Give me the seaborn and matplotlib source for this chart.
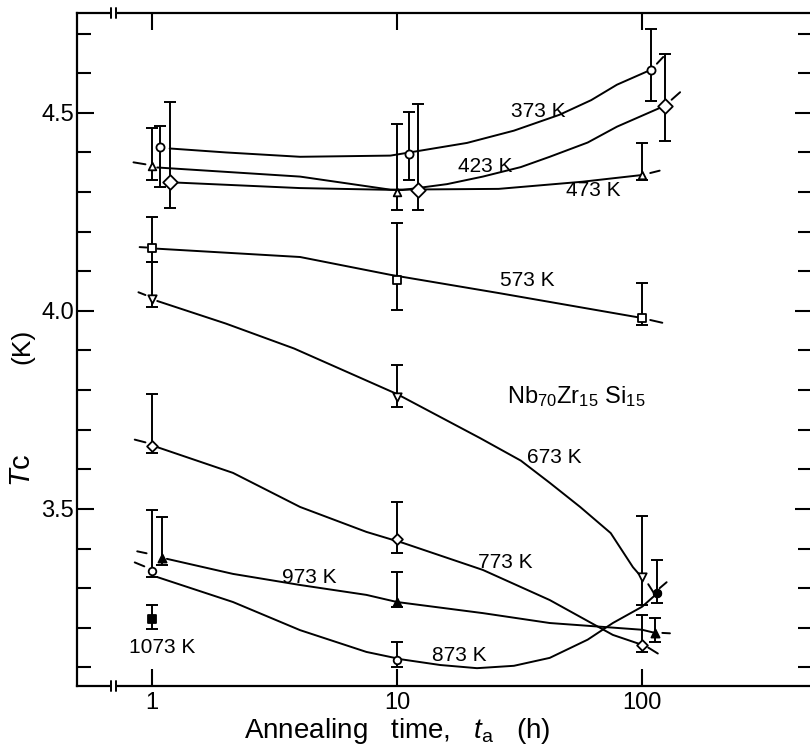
import numpy as np
import matplotlib
matplotlib.use('Agg')
import matplotlib.pyplot as plt
import seaborn as sns
from matplotlib.ticker import FixedLocator, NullLocator, MultipleLocator

# 数据：退火温度、退火时间 (h)、Tc (K)、误差上下限
temps = ['373 K', '423 K', '473 K', '573 K', '673 K', '773 K', '873 K', '973 K', '1073 K']

x_373 = [1.08, 11.2, 109]
y_373 = [4.414, 4.396, 4.609]
lo_373 = [4.313, 4.331, 4.53]
hi_373 = [4.467, 4.503, 4.712]

x_423 = [1.18, 12.2, 124]
y_423 = [4.326, 4.306, 4.518]
lo_423 = [4.26, 4.255, 4.43]
hi_423 = [4.528, 4.523, 4.649]

x_473 = [1, 10, 100]
y_473 = [4.366, 4.30, 4.343]
lo_473 = [4.331, 4.255, 4.33]
hi_473 = [4.462, 4.472, 4.424]

x_573 = [1, 10, 100]
y_573 = [4.159, 4.078, 3.982]
lo_573 = [4.124, 4.003, 3.965]
hi_573 = [4.237, 4.222, 4.071]

x_673 = [1, 10, 100]
y_673 = [4.030, 3.783, 3.328]
lo_673 = [4.01, 3.758, 3.258]
hi_673 = [4.124, 3.864, 3.482]

x_773 = [1, 10, 100]
y_773 = [3.659, 3.424, 3.157]
lo_773 = [3.64, 3.389, 3.14]
hi_773 = [3.79, 3.518, 3.232]

x_873 = [1, 10, 115]
y_873 = [3.343, 3.119, 3.288]
lo_873 = [3.328, 3.101, 3.263]
hi_873 = [3.498, 3.164, 3.371]

x_973 = [1.1, 10, 113]
y_973 = [3.376, 3.265, 3.187]
lo_973 = [3.358, 3.253, 3.164]
hi_973 = [3.48, 3.341, 3.225]

x_1073 = [1]
y_1073 = [3.222]
lo_1073 = [3.197]
hi_1073 = [3.258]

# 手绘拟合曲线（从图上读取的点）
cx_373 = [1.18, 2.0, 4.02, 9.4, 19.3, 30, 46, 62, 79, 109]
cy_373 = [4.41, 4.400, 4.389, 4.392, 4.424, 4.455, 4.495, 4.532, 4.571, 4.609]
cx_423 = [1.25, 4.02, 10.5, 16, 22.4, 32, 42, 60, 79, 124]
cy_423 = [4.324, 4.31, 4.305, 4.320, 4.339, 4.363, 4.389, 4.425, 4.465, 4.518]
cx_473 = [1.05, 4.02, 9.4, 26, 57, 100]
cy_473 = [4.362, 4.339, 4.306, 4.308, 4.326, 4.343]
cx_573 = [1.05, 4.02, 9.4, 26, 100]
cy_573 = [4.157, 4.136, 4.091, 4.045, 3.982]
cx_673 = [1.05, 2.0, 3.8, 10, 21.8, 32, 42, 55.9, 74.5, 91.8, 97]
cy_673 = [4.025, 3.968, 3.905, 3.79, 3.679, 3.622, 3.566, 3.505, 3.439, 3.353, 3.336]
cx_773 = [1.05, 2.14, 4.02, 7.5, 10.6, 22.4, 42, 76, 100]
cy_773 = [3.656, 3.591, 3.505, 3.442, 3.414, 3.346, 3.27, 3.182, 3.157]
cx_873 = [1.05, 2.14, 4.02, 7.5, 10.5, 15, 21.2, 30, 42, 60, 76, 100, 112]
cy_873 = [3.328, 3.265, 3.194, 3.139, 3.12, 3.106, 3.098, 3.104, 3.124, 3.17, 3.212, 3.253, 3.28]
cx_973 = [1.15, 2.14, 4.02, 7.5, 10, 22.4, 42, 100, 113]
cy_973 = [3.374, 3.336, 3.308, 3.283, 3.265, 3.237, 3.212, 3.195, 3.187]

# 曲线两端的短虚线段
dash_x = [[115, 122], [132, 143], [0.84, 0.94], [108, 118], [0.89, 0.95], [108, 121],
          [0.88, 0.94], [106, 113], [0.85, 0.94], [106, 116], [0.85, 0.93], [118, 126],
          [0.87, 0.95], [121, 130]]
dash_y = [[4.624, 4.641], [4.533, 4.552], [4.375, 4.370], [4.348, 4.354], [4.161, 4.160],
          [3.977, 3.970], [4.047, 4.040], [3.310, 3.283], [3.675, 3.668], [3.150, 3.135],
          [3.365, 3.355], [3.300, 3.315], [3.393, 3.388], [3.187, 3.186]]

label_x = [37.6, 23, 63, 34, 44, 27.6, 18, 4.4, 1.1]
label_y = [4.503, 4.364, 4.303, 4.076, 3.63, 3.364, 3.131, 3.328, 3.149]

sns.set_style('ticks')
plt.rcParams['font.family'] = ['Liberation Sans Narrow', 'Liberation Sans', 'DejaVu Sans']
plt.rcParams['mathtext.fontset'] = 'custom'
plt.rcParams['mathtext.it'] = 'Liberation Sans:italic'
plt.rcParams['mathtext.rm'] = 'Liberation Sans'
plt.rcParams['text.color'] = 'black'
plt.rcParams['axes.labelcolor'] = 'black'

fig = plt.figure(figsize=(8.1, 7.45), dpi=100)
ax = fig.add_axes([77 / 810, 59 / 745, 735 / 810, 673 / 745])
ax.set_xscale('log')
ax.set_xlim(0.494, 494)
ax.set_ylim(3.053, 4.752)

lw = 1.4
curves = [(cx_373, cy_373), (cx_423, cy_423), (cx_473, cy_473), (cx_573, cy_573),
          (cx_673, cy_673), (cx_773, cy_773), (cx_873, cy_873), (cx_973, cy_973)]
for cx, cy in curves:
    sns.lineplot(x=cx, y=cy, ax=ax, color='black', lw=lw, sort=False, estimator=None)
for dx, dy in zip(dash_x, dash_y):
    sns.lineplot(x=dx, y=dy, ax=ax, color='black', lw=lw, sort=False, estimator=None)

# 数据点和误差棒
series = [
    (x_373, y_373, lo_373, hi_373, 'o', 'white', 34),
    (x_423, y_423, lo_423, hi_423, 'D', 'white', 55),
    (x_473, y_473, lo_473, hi_473, '^', 'white', 30),
    (x_573, y_573, lo_573, hi_573, 's', 'white', 34),
    (x_673, y_673, lo_673, hi_673, 'v', 'white', 36),
    (x_773, y_773, lo_773, hi_773, 'D', 'white', 30),
    (x_873, y_873, lo_873, hi_873, 'o', 'white', 30),
    (x_973, y_973, lo_973, hi_973, '^', 'black', 34),
    (x_1073, y_1073, lo_1073, hi_1073, 's', 'black', 26),
]
for xs, ys, lo, hi, mk, fc, sz in series:
    ys_a = np.array(ys)
    yerr = [ys_a - np.array(lo), np.array(hi) - ys_a]
    ax.errorbar(xs, ys, yerr=yerr, fmt='none', ecolor='black', elinewidth=lw,
                capsize=4, capthick=lw, zorder=3)
    sns.scatterplot(x=xs, y=ys, ax=ax, marker=mk, s=sz, facecolor=fc,
                    edgecolor='black', linewidth=1.3, zorder=4)
# 873 K 在 100 h 处为半实心点
ax.scatter([x_873[2]], [y_873[2]], marker='o', s=30, facecolor='black',
           edgecolor='black', zorder=5)

for t, lx, ly in zip(temps, label_x, label_y):
    ax.text(lx, ly, t, ha='center', va='center', fontsize=15, color='black')

ax.text(54, 3.783, r'Nb$_{70}$Zr$_{15}$ Si$_{15}$', ha='center', va='center',
        fontsize=17, color='black')

# 坐标轴
ax.xaxis.set_major_locator(FixedLocator([1, 10, 100]))
ax.xaxis.set_minor_locator(NullLocator())
ax.set_xticklabels(['1', '10', '100'])
ax.yaxis.set_major_locator(FixedLocator([3.5, 4.0, 4.5]))
ax.yaxis.set_minor_locator(MultipleLocator(0.1))
ax.set_yticklabels(['3.5', '4.0', '4.5'])
ax.tick_params(axis='both', which='both', direction='in', top=True, right=True,
               width=1.5, colors='black', labelcolor='black', labelsize=17)
ax.tick_params(axis='x', which='major', length=12, pad=4)
ax.tick_params(axis='y', which='major', length=12, pad=2)
ax.tick_params(axis='y', which='minor', length=10)
for side in ['left', 'bottom', 'top']:
    ax.spines[side].set_linewidth(1.6)
    ax.spines[side].set_color('black')
ax.spines['right'].set_visible(False)

# 轴断开标记
trans = ax.get_xaxis_transform()
for yb in [0, 1]:
    ax.plot([0.684, 0.709], [yb, yb], color='white', lw=3, transform=trans,
            clip_on=False, zorder=6)
    for xb in [0.68, 0.713]:
        ax.plot([xb, xb], [yb - 0.007, yb + 0.007], color='black', lw=1.4,
                transform=trans, clip_on=False, zorder=7)

ax.text(10, -0.067, r'Annealing   time,   $t_{\rm a}$   (h)', transform=trans,
        ha='center', va='center', fontsize=20, color='black')
ax.text(-0.075, 0.505, '(K)', transform=ax.transAxes, rotation=90,
        ha='center', va='center', fontsize=19, color='black')
ax.text(-0.075, 0.32, r'$T$c', transform=ax.transAxes, rotation=90,
        ha='center', va='center', fontsize=21, color='black')

fig.savefig('out.png', dpi=100)
plt.close(fig)
